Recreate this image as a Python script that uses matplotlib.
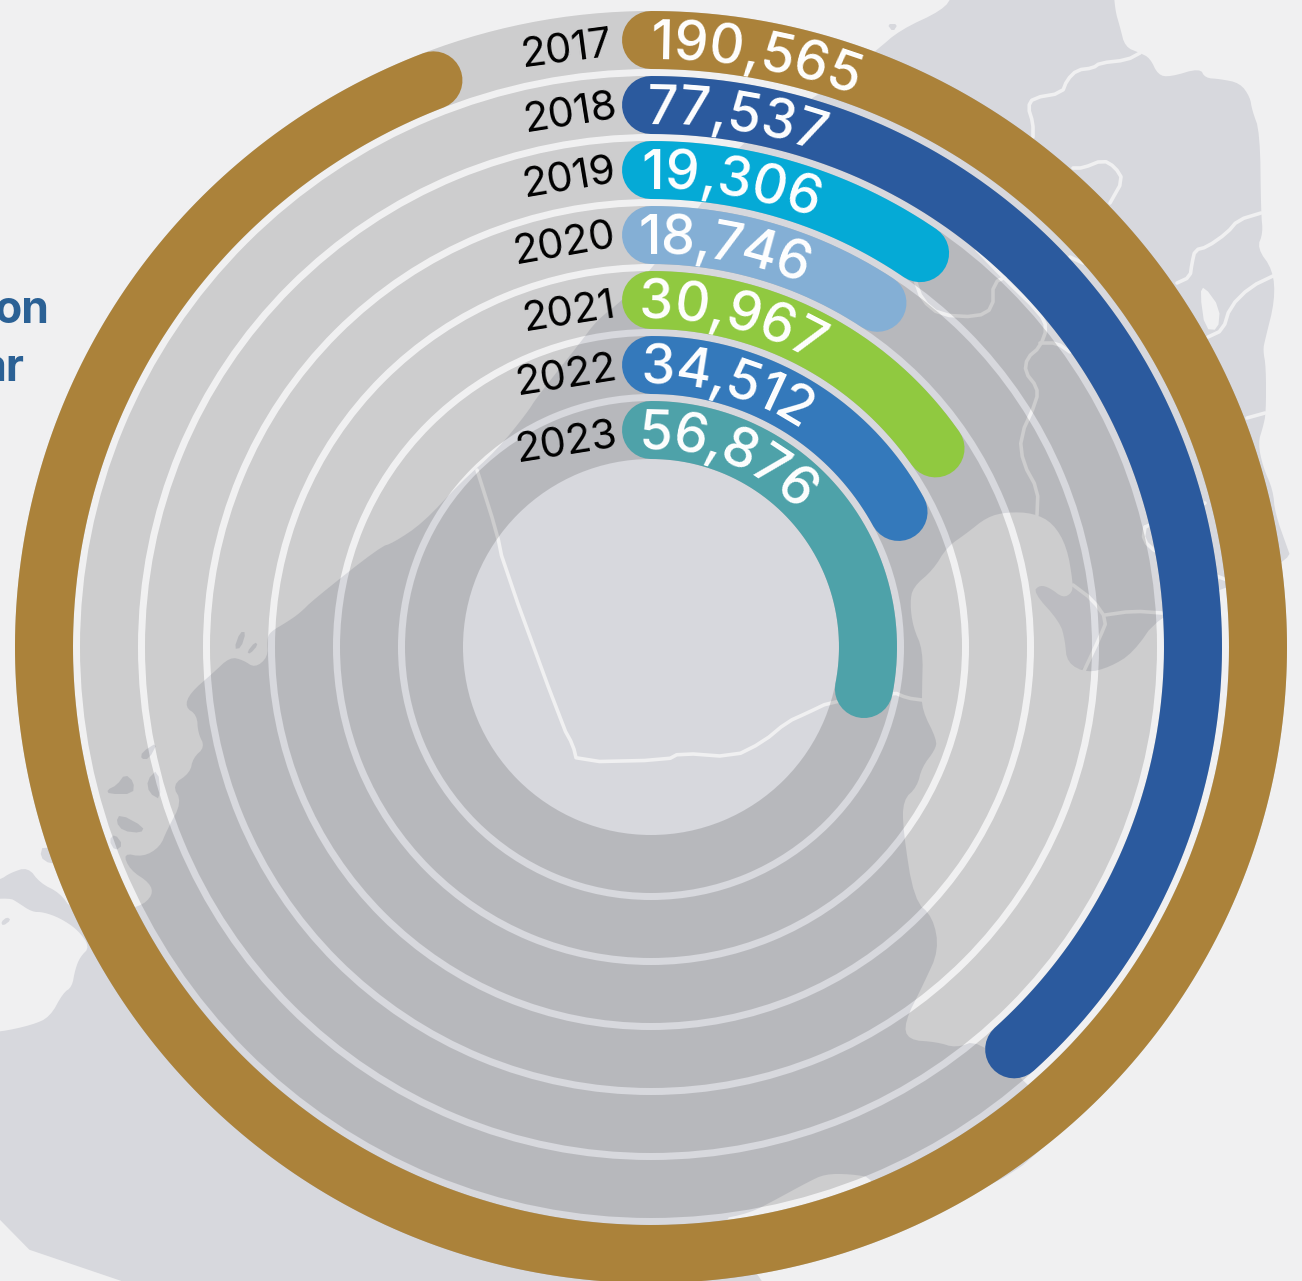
import numpy as np
import matplotlib
matplotlib.use("Agg")
import matplotlib.pyplot as plt
from matplotlib.font_manager import FontProperties
from matplotlib.textpath import TextToPath

# ---------- data ----------
years = ["2017", "2018", "2019", "2020", "2021", "2022", "2023"]
values = [190565, 77537, 19306, 18746, 30967, 34512, 56876]
colors = ["#ab823a", "#2b5a9e", "#05aad6", "#84afd5", "#90c940", "#3479bb", "#4ea2a9"]
full_scale_deg = 339.0

# backdrop map outlines (image pixels)
land = [(-20,1300),(-20,1032),(0,1032),(32,1025),(50,1017),(63,993),(72,987),(75,970),(80,957),(90,947),(78,930),(60,918),(43,912),(32,912),(17,902),(10,898),(-20,900),
 (-20,882),(0,880),(10,873),(28,867),(40,883),(60,893),(72,910),(100,915),(140,907),(153,895),(150,883),(130,870),(123,853),(143,857),(160,847),(167,830),(182,802),(172,785),(190,773),(193,758),(205,747),(198,733),(197,715),(185,707),(190,693),(213,673),(230,657),(243,660),(255,668),(268,657),(267,640),(270,632),(287,622),(300,613),(313,600),(380,547),(393,543),(423,523),(460,483),(497,450),(527,413),(537,397),(580,343),(597,320),(623,300),(653,267),(703,203),(740,140),(820,95),(877,50),(900,30),(943,10),(953,-5),(955,-20),
 (1113,-20),(1115,10),(1120,27),(1125,47),(1140,53),(1150,58),(1158,75),(1170,77),(1200,68),(1205,78),(1220,79),(1240,83),(1250,97),(1252,110),(1260,132),(1261,213),(1263,233),(1257,248),(1273,270),(1275,300),(1265,340),(1263,350),(1266,367),(1266,413),(1263,427),(1258,443),(1263,467),(1273,490),(1275,513),(1287,547),(1291,558),(1240,585),(1225,587),(1158,617),(1133,653),(1110,667),(1087,673),(1067,663),(1065,640),(1060,622),(1033,592),(1040,585),(1050,588),(1063,598),(1072,593),(1073,583),(1067,547),(1053,523),(1033,513),(1007,512),(987,517),(967,533),(947,547),(933,570),(913,587),(910,603),(913,627),(923,650),(922,690),(922,710),(937,740),(935,750),(922,767),(917,787),(903,800),(903,830),(914,900),(933,917),(939,950),(924,983),(904,1023),(908,1040),(937,1042),(956,1048),(978,1040),(1024,1080),(1060,1120),(1060,1133),(1000,1185),(880,1225),(875,1178),(850,1174),(825,1174),(808,1182),(775,1200),(750,1213),(716,1220),(766,1285),(770,1300)]
islands = [
 [(240,632),(246,632),(241,648),(234,649)],
 [(255,642),(258,645),(250,654),(247,652)],
 [(158,742),(149,759),(141,759),(142,752)],
 [(125,774),(134,782),(133,794),(109,794),(107,790),(117,785)],
 [(158,769),(147,780),(149,793),(161,800)],
 [(120,814),(144,827),(141,833),(123,831),(116,822)],
 [(115,834),(123,845),(115,851),(109,840)],
 [(43,845),(40,857),(50,864),(100,870),(115,855)],
 [(7,917),(11,920),(3,926),(1,922)],
 [(887,24),(898,24),(893,32)],
]
lake = [(1204,286),(1220,308),(1218,330),(1205,329),(1200,293)]
borders = [
 [(1140,53),(1127,60),(1100,63),(1093,68),(1077,70),(1067,80),(1062,93),(1033,98),(1028,107),(1033,123),(1033,137)],
 [(1073,168),(1083,168),(1103,160),(1115,167),(1123,180),(1110,203)],
 [(1261,213),(1238,220),(1227,233),(1207,247),(1195,250),(1192,263),(1190,277),(1177,283)],
 [(1275,275),(1250,287),(1230,307),(1223,330),(1208,337)],
 [(1265,413),(1247,418)],
 [(915,280),(922,300),(940,315),(977,317),(993,308),(993,283),(1010,275)],
 [(977,250),(1003,277),(1040,313),(1047,328),(1040,347),(1027,358),(1025,372),(1037,387),(1037,400),(1020,437),(1023,463),(1038,490),(1037,515)],
 [(1040,343),(1057,343),(1070,352)],
 [(1070,257),(1083,263)],
 [(1073,585),(1093,600),(1107,620),(1100,637),(1083,673)],
 [(1105,615),(1133,611),(1162,613)],
 [(1145,527),(1143,540),(1157,553),(1227,580)],
 [(1145,527),(1205,503)],
 [(477,470),(497,533),(503,563),(563,727),(573,745),(577,762),(667,760),(680,753),(733,757),(763,742),(787,722),(807,713),(830,702),(893,692),(907,698),(922,700)],
]
pale_patch = [(1033,592),(1040,585),(1050,588),(1063,598),(1072,593),(1073,585),(1093,600),(1107,620),(1100,637),(1083,673),(1067,663),(1065,640),(1060,622)]

# ---------- style ----------
W, H = 1302, 1281
SEA, LAND = "#f0f0f1", "#d7d8dd"
CX, CY = 651, 647
RMAX = 640
ring_mid = [607, 542, 477, 412, 347, 282, 217]
ring_w = 58
year_anchor = [(614,55,7.5),(619,117,9),(618,181,9.5),(618,246,10),(618,316,9),(619,379,9),(619,446,9)]
text_start_px = [651, 647, 642, 639, 639, 641, 639]
text_span_px = [208, 176, 176, 168, 183, 168, 176]
px = 72 / 100


def smooth(pts, closed=True, n=2):
    p = np.asarray(pts, float)
    for _ in range(n):
        q = np.roll(p, -1, axis=0) if closed else p[1:]
        a = p if closed else p[:-1]
        new = np.empty((2 * len(a), 2))
        new[0::2] = 0.75 * a + 0.25 * q
        new[1::2] = 0.25 * a + 0.75 * q
        if not closed:
            new = np.vstack([p[0], new, p[-1]])
        p = new
    return p


fig = plt.figure(figsize=(W / 100, H / 100), dpi=100, facecolor=SEA)
bg = fig.add_axes([0, 0, 1, 1], zorder=0)
bg.set_xlim(0, W)
bg.set_ylim(H, 0)
bg.axis("off")
bg.fill(*smooth(land).T, color=LAND, lw=0, zorder=1)
for isl in islands:
    bg.fill(*smooth(isl, n=1).T, color=LAND, lw=0, zorder=1)
bg.fill(*smooth(lake, n=1).T, color=SEA, lw=0, zorder=2)
bg.fill(*smooth(pale_patch).T, color="#ffffff", alpha=0.15, lw=0, zorder=2)
for b in borders:
    bg.plot(*smooth(b, closed=False, n=1).T, color=SEA, lw=3.6 * px, solid_capstyle="round", zorder=3)

bg.text(49, 323, "on", color="#2b6195", fontsize=32, fontweight="bold", family="Inter", ha="right", va="baseline", zorder=4)
bg.text(24, 381, "ar", color="#2b6195", fontsize=32, fontweight="bold", family="Inter", ha="right", va="baseline", zorder=4)

pol = fig.add_axes([(CX - RMAX) / W, (H - CY - RMAX) / H, 2 * RMAX / W, 2 * RMAX / H], projection="polar", zorder=1)
pol.set_theta_zero_location("N")
pol.set_theta_direction(-1)
pol.set_ylim(0, RMAX)
pol.axis("off")
pol.patch.set_alpha(0)

deg_per_unit = full_scale_deg / max(values)
prop = FontProperties(family="Inter", weight="medium", size=39)
t2p = TextToPath()
for i, (year, val, col) in enumerate(zip(years, values, colors)):
    r = ring_mid[i]
    pol.bar(np.pi, ring_w, width=2 * np.pi, bottom=r - ring_w / 2, color="black", alpha=0.145, lw=0, zorder=1)
    th = np.radians(np.linspace(0, val * deg_per_unit, 400))
    pol.plot(th, np.full_like(th, r), color=col, lw=ring_w * px, solid_capstyle="round", clip_on=False, zorder=2)

    # value, set letter by letter along the arc
    label = f"{val:,}"
    widths = np.array([t2p.get_text_width_height_descent(c, prop, False)[0] * 100 / 72 for c in label])
    gap = (text_span_px[i] - widths.sum()) / (len(label) - 1)
    base_r = r - 19
    s = text_start_px[i] - CX
    for c, w in zip(label, widths):
        ang = (s + w / 2) / base_r
        pol.text(ang, base_r, c, color="white", fontproperties=prop, rotation=-np.degrees(ang),
                 rotation_mode="anchor", ha="center", va="baseline", clip_on=False, zorder=3)
        s += w + gap

    x, y, rot = year_anchor[i]
    fig.text(x / W, 1 - y / H, year, color="black", family="Inter", fontsize=30, fontweight="normal",
             rotation=rot, rotation_mode="anchor", ha="right", va="baseline", zorder=5)

fig.savefig("out.png", dpi=100, facecolor=SEA)
